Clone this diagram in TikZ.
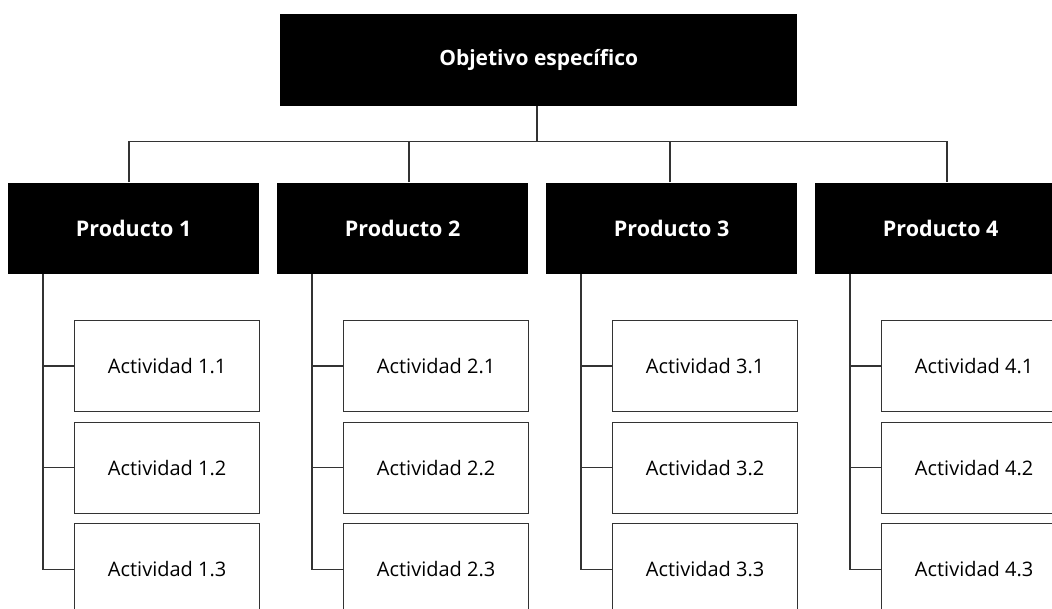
\documentclass[tikz,border=0pt]{standalone}
\usepackage{fontspec}
\setmainfont{Open Sans}
\begin{document}
\begin{tikzpicture}[x=1pt,y=-1pt,
  topbox/.style={fill=black,draw=none,text=white,font=\bfseries\fontsize{21}{24}\selectfont,minimum width=517pt,minimum height=92pt,inner sep=0pt,anchor=north west},
  prodbox/.style={fill=black,draw=none,text=white,font=\bfseries\fontsize{21.5}{24}\selectfont,minimum width=251pt,minimum height=91.5pt,inner sep=0pt,anchor=north west},
  actbox/.style={draw=black!80,line width=1.3pt,fill=white,font=\fontsize{20}{22}\selectfont,minimum width=185pt,minimum height=91pt,inner sep=0pt,anchor=north west},
  conn/.style={draw=black!80,line width=1.3pt}]
\useasboundingbox (0,0) rectangle (1052,609);
\clip (0,0) rectangle (1052,609);
% top
\node[topbox] (obj) at (280,14) {Objetivo específico};
% products
\node[prodbox] (p1) at (8,182.5) {Producto 1};
\node[prodbox] (p2) at (277,182.5) {Producto 2};
\node[prodbox] (p3) at (546,182.5) {Producto 3};
\node[prodbox] (p4) at (815,182.5) {Producto 4};
% bus
\coordinate (bus) at (537,141.5);
\coordinate (d1) at (129,182.5);
\coordinate (d2) at (409,182.5);
\coordinate (d3) at (670,182.5);
\coordinate (d4) at (947,182.5);
\draw[conn] (obj.south -| bus) -- (bus);
\draw[conn] (d1) |- (bus) -| (d4);
\draw[conn] (d2) -- (d2 |- bus);
\draw[conn] (d3) -- (d3 |- bus);
% activities
\foreach \i/\l in {1/8,2/277,3/546,4/815}{
  \node[actbox] (a\i1) at (\l+66,320) {Actividad \i.1};
  \node[actbox] (a\i2) at (\l+66,421.5) {Actividad \i.2};
  \node[actbox] (a\i3) at (\l+66,523) {Actividad \i.3};
  \coordinate (t\i) at (\l+35,274);
  \draw[conn] (t\i) |- (a\i3.west);
  \draw[conn] (t\i |- a\i1.west) -- (a\i1.west);
  \draw[conn] (t\i |- a\i2.west) -- (a\i2.west);
}
\end{tikzpicture}
\end{document}
